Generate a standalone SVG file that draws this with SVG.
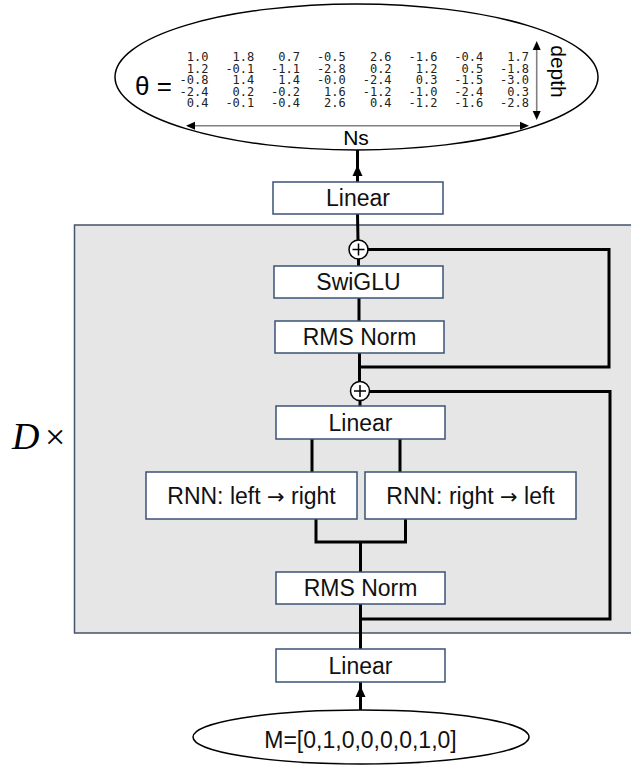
<svg xmlns="http://www.w3.org/2000/svg" width="631" height="765" viewBox="0 0 631 765">
<style>
  .box { fill: #ffffff; stroke: #3a5276; stroke-width: 1.5; }
  .lbl { font-family: "Liberation Sans", Arial, sans-serif; font-size: 23px; fill: #111; text-anchor: middle; }
  .arr { font-family: "DejaVu Sans", sans-serif; font-size: 21px; }
  .conn { fill: none; stroke: #000; stroke-width: 3; stroke-linejoin: miter; }
  .mat { font-family: "DejaVu Sans Mono", "Liberation Mono", monospace; font-size: 12px; fill: #222; text-anchor: end; }
  .dim { stroke: #808080; stroke-width: 1.6; fill: none; }
  .head { fill: #000; }
  .plus { fill: #fff; stroke: #000; stroke-width: 1.5; }
</style>

<!-- repeated block container -->
<g id="block">
  <rect x="74.5" y="225" width="570" height="408" fill="#e7e6e6" stroke="#44546a" stroke-width="1.5"/>
  <text x="12" y="449" font-family="'Liberation Serif', 'Times New Roman', serif" font-size="38" font-style="italic" fill="#000">D</text>
  <text x="45" y="449" font-family="'Liberation Serif', 'Times New Roman', serif" font-size="36" fill="#000">×</text>
</g>

<!-- connectors -->
<g id="connectors">
  <line class="conn" x1="357.5" y1="182" x2="357.5" y2="150"/>
  <polygon class="head" points="357.5,165 352.5,176 362.5,176"/>
  <line class="conn" x1="357.5" y1="214" x2="358" y2="240"/>
  <line class="conn" x1="358.5" y1="259" x2="358.5" y2="266"/>
  <line class="conn" x1="359" y1="298" x2="359" y2="321"/>
  <line class="conn" x1="359.5" y1="353" x2="359.5" y2="382"/>
  <path class="conn" d="M 359.5 367 H 609 V 249.5 H 367"/>
  <line class="conn" x1="360" y1="400" x2="360" y2="406"/>
  <line class="conn" x1="312" y1="439" x2="312" y2="472"/>
  <line class="conn" x1="400" y1="439" x2="400" y2="472"/>
  <path class="conn" d="M 316 519 V 542 H 405.5 V 519"/>
  <line class="conn" x1="360.5" y1="542" x2="360.5" y2="572"/>
  <line class="conn" x1="360.5" y1="604" x2="360.5" y2="649"/>
  <path class="conn" d="M 360.5 619 H 610 V 391.5 H 369"/>
  <line class="conn" x1="360.5" y1="710" x2="360.5" y2="682"/>
  <polygon class="head" points="360.5,686 355.5,697 365.5,697"/>
</g>

<!-- output parameters -->
<g id="output_theta">
  <ellipse cx="356.5" cy="77" rx="241.5" ry="73" fill="#fff" stroke="#000" stroke-width="1.5"/>
  <text x="135" y="95" font-family="'Liberation Sans', Arial, sans-serif" font-size="26" fill="#000">θ =</text>
  <text class="mat" y="61"><tspan x="208.5">1.0</tspan><tspan x="254.3">1.8</tspan><tspan x="300">0.7</tspan><tspan x="345.8">-0.5</tspan><tspan x="391.6">2.6</tspan><tspan x="437.4">-1.6</tspan><tspan x="483.2">-0.4</tspan><tspan x="529">1.7</tspan></text>
  <text class="mat" y="72.5"><tspan x="208.5">1.2</tspan><tspan x="254.3">-0.1</tspan><tspan x="300">-1.1</tspan><tspan x="345.8">-2.8</tspan><tspan x="391.6">0.2</tspan><tspan x="437.4">1.2</tspan><tspan x="483.2">0.5</tspan><tspan x="529">-1.8</tspan></text>
  <text class="mat" y="84"><tspan x="208.5">-0.8</tspan><tspan x="254.3">1.4</tspan><tspan x="300">1.4</tspan><tspan x="345.8">-0.0</tspan><tspan x="391.6">-2.4</tspan><tspan x="437.4">0.3</tspan><tspan x="483.2">-1.5</tspan><tspan x="529">-3.0</tspan></text>
  <text class="mat" y="95.5"><tspan x="208.5">-2.4</tspan><tspan x="254.3">0.2</tspan><tspan x="300">-0.2</tspan><tspan x="345.8">1.6</tspan><tspan x="391.6">-1.2</tspan><tspan x="437.4">-1.0</tspan><tspan x="483.2">-2.4</tspan><tspan x="529">0.3</tspan></text>
  <text class="mat" y="107"><tspan x="208.5">0.4</tspan><tspan x="254.3">-0.1</tspan><tspan x="300">-0.4</tspan><tspan x="345.8">2.6</tspan><tspan x="391.6">0.4</tspan><tspan x="437.4">-1.2</tspan><tspan x="483.2">-1.6</tspan><tspan x="529">-2.8</tspan></text>
  <line class="dim" x1="193" y1="125.7" x2="522" y2="125.7"/>
  <polygon class="head" points="186,125.7 195,121.7 195,129.7"/>
  <polygon class="head" points="529,125.7 520,121.7 520,129.7"/>
  <text x="356" y="145" font-family="'Liberation Sans', Arial, sans-serif" font-size="21" fill="#000" text-anchor="middle">Ns</text>
  <line class="dim" x1="536.7" y1="48" x2="536.7" y2="113"/>
  <polygon class="head" points="536.7,41 532.7,50 540.7,50"/>
  <polygon class="head" points="536.7,120 532.7,111 540.7,111"/>
  <text transform="translate(551,71.5) rotate(90)" font-family="'Liberation Sans', Arial, sans-serif" font-size="21" fill="#000" text-anchor="middle">depth</text>
</g>

<g id="linear_out">
  <rect class="box" x="273" y="182" width="170" height="32"/>
  <text class="lbl" x="358" y="206">Linear</text>
</g>

<g id="add_1">
  <circle class="plus" cx="358.5" cy="249.5" r="9.5"/>
  <path d="M 352.5 249.5 H 364.5 M 358.5 243.5 V 255.5" stroke="#000" stroke-width="1.5"/>
</g>

<g id="swiglu">
  <rect class="box" x="274" y="266" width="169" height="32"/>
  <text class="lbl" x="358.5" y="290">SwiGLU</text>
</g>

<g id="rmsnorm_1">
  <rect class="box" x="275" y="321" width="169" height="32"/>
  <text class="lbl" x="359.5" y="345">RMS Norm</text>
</g>

<g id="add_2">
  <circle class="plus" cx="360" cy="391" r="9.5"/>
  <path d="M 354 391 H 366 M 360 385 V 397" stroke="#000" stroke-width="1.5"/>
</g>

<g id="linear_mix">
  <rect class="box" x="276" y="406" width="169" height="33"/>
  <text class="lbl" x="360.5" y="430.5">Linear</text>
</g>

<g id="rnn_lr">
  <rect class="box" x="146" y="472" width="211" height="47"/>
  <text class="lbl" x="251.5" y="503.5">RNN: left <tspan class="arr">→</tspan> right</text>
</g>

<g id="rnn_rl">
  <rect class="box" x="365" y="472" width="211" height="47"/>
  <text class="lbl" x="470.5" y="503.5">RNN: right <tspan class="arr">→</tspan> left</text>
</g>

<g id="rmsnorm_2">
  <rect class="box" x="276" y="572" width="169" height="32"/>
  <text class="lbl" x="360.5" y="596">RMS Norm</text>
</g>

<g id="linear_in">
  <rect class="box" x="276" y="649" width="169" height="33"/>
  <text class="lbl" x="360.5" y="673.5">Linear</text>
</g>

<g id="input_m">
  <ellipse cx="361" cy="737" rx="168" ry="27" fill="#fff" stroke="#000" stroke-width="1.5"/>
  <text class="lbl" x="360.5" y="748" font-size="24">M=[0,1,0,0,0,0,1,0]</text>
</g>
</svg>
